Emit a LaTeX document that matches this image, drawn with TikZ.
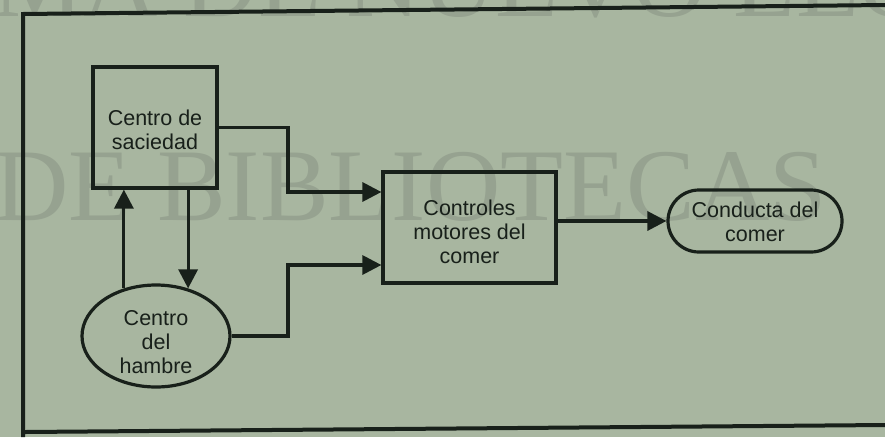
\documentclass[tikz,border=0pt]{standalone}
\usepackage{fontspec}
\setmainfont{Liberation Sans}
\newfontfamily\wmfont{Liberation Serif}
\usetikzlibrary{arrows.meta,shapes.geometric}
\definecolor{paper}{RGB}{168,182,160}
\definecolor{wmark}{RGB}{150,162,144}
\definecolor{ink}{RGB}{24,32,26}
\tikzset{
  blk/.style={draw=ink, line width=3.2pt, inner sep=0pt},
  boxnode/.style={blk, rectangle},
  ovalnode/.style={blk, ellipse},
  pillnode/.style={blk, rectangle, rounded corners=31pt},
  txt/.style={text=ink, align=center, font=\fontsize{21.5}{24}\selectfont, inner sep=0pt},
  arr/.style={draw=ink, line width=3.2pt,
    -{Triangle[length=19pt,width=19pt]}},
  framel/.style={draw=ink, line width=4pt},
  wm/.style={text=wmark, font=\wmfont\fontsize{103}{103}\selectfont, anchor=base west, inner sep=0pt}
}
\begin{document}
\begin{tikzpicture}[x=1pt,y=-1pt]
\useasboundingbox (0,0) rectangle (885,437);
\fill[paper] (0,0) rectangle (885,437);
\begin{scope}
\clip (0,0) rectangle (885,437);
\node[wm] (wtop) at (-8,16) {MA DE NUEVO LEÓN};
\node[wm] (wmid) at (-6,220) {DE BIBLIOTECAS};
\end{scope}
% outer frame
\draw[framel] (885,5) -- (23,14) -- (23,437);
\draw[framel] (25,432) -- (885,425);
% shapes
\node[boxnode, minimum width=124pt, minimum height=121pt] (sac) at (155,127.5) {};
\node[boxnode, minimum width=173pt, minimum height=111pt] (ctrl) at (469.5,227.5) {};
\node[ovalnode, minimum width=148pt, minimum height=102pt] (ham) at (156,336) {};
\node[pillnode, minimum width=174pt, minimum height=62pt] (cond) at (755,221) {};
% texts
\node[txt] (sact) at ([yshift=-2pt]sac.center) {Centro de\\saciedad};
\node[txt] (ctrlt) at ([yshift=-4.5pt]ctrl.center) {Controles\\motores del\\comer};
\node[txt] (hamt) at ([yshift=-6pt]ham.center) {Centro\\del\\hambre};
\node[txt] (condt) at ([yshift=-0.5pt]cond.center) {Conducta del\\comer};
% junctions
\coordinate (j1) at (288,160);
\coordinate (j2) at (288,300);
% connectors
\draw[arr] (sac.east) -| (j1) |- ([yshift=35.5pt]ctrl.west);
\draw[arr] (ham.east) -| (j2) |- ([yshift=-37.5pt]ctrl.west);
\draw[arr] (ham.124) -- (ham.124 |- sac.south);
\draw[arr] (ham.56 |- sac.south) -- (ham.56);
\draw[arr] (ctrl.east |- cond.west) -- (cond.west);
\end{tikzpicture}
\end{document}
